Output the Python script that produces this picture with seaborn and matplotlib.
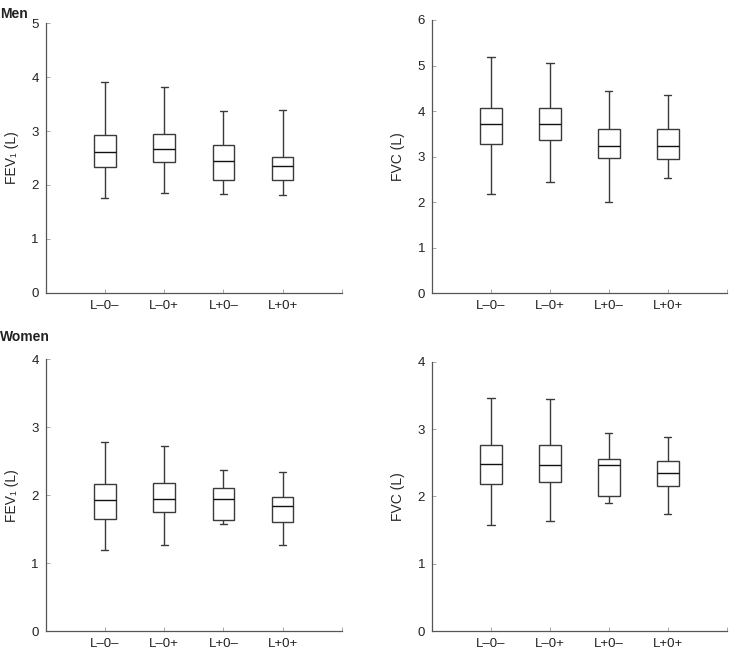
"""Box plots of FEV1 and FVC by group, men and women."""
import pandas as pd
import matplotlib
matplotlib.use('Agg')
import matplotlib.pyplot as plt
import seaborn as sns

groups = ['L\u20130\u2013', 'L\u20130+', 'L+0\u2013', 'L+0+']

# five-number summaries: min, q1, median, q3, max
men_fev1 = [[1.76, 2.33, 2.62, 2.92, 3.91],
            [1.85, 2.43, 2.66, 2.95, 3.82],
            [1.84, 2.09, 2.44, 2.75, 3.38],
            [1.81, 2.10, 2.36, 2.52, 3.39]]
men_fvc = [[2.18, 3.27, 3.71, 4.07, 5.18],
           [2.44, 3.36, 3.72, 4.06, 5.05],
           [2.00, 2.96, 3.23, 3.61, 4.45],
           [2.54, 2.94, 3.23, 3.61, 4.35]]
women_fev1 = [[1.20, 1.65, 1.93, 2.16, 2.78],
              [1.26, 1.75, 1.94, 2.18, 2.72],
              [1.57, 1.63, 1.94, 2.10, 2.37],
              [1.26, 1.61, 1.84, 1.98, 2.34]]
women_fvc = [[1.57, 2.18, 2.48, 2.77, 3.46],
             [1.63, 2.22, 2.47, 2.77, 3.44],
             [1.90, 2.00, 2.46, 2.55, 2.94],
             [1.74, 2.16, 2.35, 2.53, 2.88]]

y_limits = [5, 6, 4, 4]
y_labels = ['FEV\u2081 (L)', 'FVC (L)', 'FEV\u2081 (L)', 'FVC (L)']

sns.set_style('white')
plt.rcParams['font.family'] = ['Liberation Sans Narrow', 'Liberation Sans', 'DejaVu Sans']
plt.rcParams['text.color'] = '#222222'


def to_frame(summary):
    rows = []
    for g, vals in zip(groups, summary):
        for v in vals:
            rows.append({'group': g, 'value': v})
    return pd.DataFrame(rows)


fig = plt.figure(figsize=(7.41, 6.5), dpi=100)
positions = [[0.0617, 0.5497, 0.3995, 0.4145],
             [0.583, 0.5488, 0.398, 0.4205],
             [0.0617, 0.0292, 0.3995, 0.418],
             [0.583, 0.0292, 0.398, 0.4143]]
datasets = [men_fev1, men_fvc, women_fev1, women_fvc]

line = '#3a3a3a'
for pos, data, ymax, ylab in zip(positions, datasets, y_limits, y_labels):
    ax = fig.add_axes(pos)
    df = to_frame(data)
    sns.boxplot(data=df, x='group', y='value', order=groups, ax=ax,
                whis=(0, 100), width=0.36, color='white', linecolor=line,
                linewidth=1.0, capwidths=0.12, saturation=1,
                medianprops={'color': '#111111', 'linewidth': 1.0})
    ax.set_xlim(-1, 4)
    ax.set_ylim(0, ymax)
    ax.set_yticks(range(0, ymax + 1))
    ax.set_xticks([0, 1, 2, 3, 4])
    ax.set_xticklabels(groups + [''])
    sns.despine(ax=ax)
    for s in ['left', 'bottom']:
        ax.spines[s].set_color('#555555')
        ax.spines[s].set_linewidth(0.9)
    ax.tick_params(direction='in', length=3, width=0.6, color='#999999',
                   labelsize=9.5, labelcolor='#222222', pad=5)
    ax.tick_params(axis='y', left=True)
    ax.tick_params(axis='x', bottom=True)
    ax.set_xlabel('')
    ax.set_ylabel(ylab, fontsize=10, labelpad=9)

fig.text(0.0, 0.99, 'Men', fontsize=10, fontweight='bold', va='top', ha='left')
fig.text(0.0, 0.492, 'Women', fontsize=10, fontweight='bold', va='top', ha='left')

fig.savefig('out.png', dpi=100)
